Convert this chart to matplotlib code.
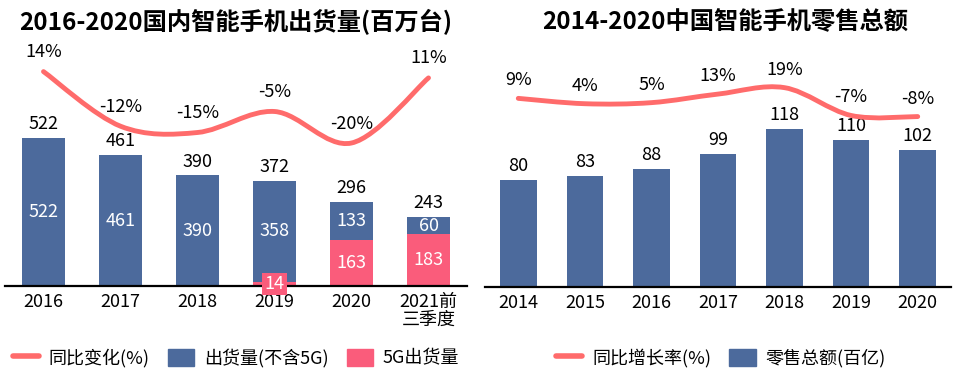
import numpy as np
import matplotlib
matplotlib.use("Agg")
import matplotlib.pyplot as plt
from matplotlib.path import Path
from matplotlib.patches import PathPatch, Patch
from matplotlib.lines import Line2D

plt.rcParams['font.family'] = ['Noto Sans CJK SC', 'DejaVu Sans']

# left chart data
years_l = ['2016', '2017', '2018', '2019', '2020', '2021前\n三季度']
total_l = [522, 461, 390, 372, 296, 243]
non5g_l = [522, 461, 390, 358, 133, 60]
g5_l = [0, 0, 0, 14, 163, 183]
yoy_l = [14, -12, -15, -5, -20, 11]

# right chart data
years_r = ['2014', '2015', '2016', '2017', '2018', '2019', '2020']
retail_r = [80, 83, 88, 99, 118, 110, 102]
yoy_r = [9, 4, 5, 13, 19, -7, -8]

BLUE = '#4C6A9C'
PINK = '#FA5C7B'
LINE = '#FF6B6B'
W, H = 955, 376
FS = 13


def smooth_path(xs, ys):
    # Catmull-Rom style smoothing drawn as cubic bezier segments
    pts = np.column_stack([xs, ys]).astype(float)
    ext = np.vstack([pts[0], pts, pts[-1]])
    verts = [pts[0]]
    codes = [Path.MOVETO]
    for i in range(len(pts) - 1):
        p0, p1, p2, p3 = ext[i], ext[i + 1], ext[i + 2], ext[i + 3]
        verts += [p1 + (p2 - p0) / 6, p2 - (p3 - p1) / 6, p2]
        codes += [Path.CURVE4] * 3
    return Path(verts, codes)


def px_axes(fig, left, right, top, bottom):
    return fig.add_axes([left / W, 1 - bottom / H, (right - left) / W, (bottom - top) / H])


def style_axis(ax):
    for s in ['top', 'left', 'right']:
        ax.spines[s].set_visible(False)
    ax.spines['bottom'].set_linewidth(1.6)
    ax.spines['bottom'].set_color('black')
    ax.set_yticks([])
    ax.tick_params(axis='x', length=0, labelsize=FS, pad=5)


fig = plt.figure(figsize=(W / 100, H / 100), dpi=100)

# ---- left chart ----
ax1 = px_axes(fig, 5, 467, 40, 286)
x = np.arange(len(years_l))
ax1.bar(x, g5_l, width=0.56, color=PINK)
ax1.bar(x, non5g_l, width=0.56, bottom=g5_l, color=BLUE)
ax1.set_xlim(-0.5, 5.5)
ax1.set_ylim(0, 868)
ax1.set_xticks(x)
ax1.set_xticklabels(years_l, linespacing=1.0)
style_axis(ax1)

for i in range(len(x)):
    ax1.annotate(str(total_l[i]), (x[i], total_l[i]), xytext=(0, 10), textcoords='offset points',
                 ha='center', va='center', fontsize=FS)
    ax1.text(x[i], g5_l[i] + non5g_l[i] / 2, str(non5g_l[i]), ha='center', va='center',
             fontsize=FS, color='white')
    if g5_l[i] > 0:
        if g5_l[i] < 40:
            ax1.text(x[i], g5_l[i] / 2, str(g5_l[i]), ha='center', va='center', fontsize=FS,
                     color='white', bbox=dict(boxstyle='square,pad=0.12', fc=PINK, ec='none'))
        else:
            ax1.text(x[i], g5_l[i] / 2, str(g5_l[i]), ha='center', va='center', fontsize=FS,
                     color='white')

ax1b = ax1.twinx()
ax1b.set_ylim(-88.1, 29.05)
ax1b.axis('off')
ax1b.add_patch(PathPatch(smooth_path(x, yoy_l), fc='none', ec=LINE, lw=3.5, capstyle='round'))
for i in range(len(x)):
    ax1b.annotate(f'{yoy_l[i]}%', (x[i], yoy_l[i]), xytext=(0, 14), textcoords='offset points',
                  ha='center', va='center', fontsize=FS)

fig.text(236 / W, 1 - 22 / H, '2016-2020国内智能手机出货量(百万台)', ha='center', va='center',
         fontsize=17.5, fontweight='bold')

h1 = [Line2D([0], [0], color=LINE, lw=4, solid_capstyle='round'),
      Patch(color=BLUE), Patch(color=PINK)]
ax1.legend(h1, ['同比变化(%)', '出货量(不含5G)', '5G出货量'], loc='center',
           bbox_to_anchor=(236 / W, 1 - 358 / H), bbox_transform=fig.transFigure, ncol=3,
           frameon=False, fontsize=FS, handlelength=1.45, handleheight=1.05,
           handletextpad=0.55, columnspacing=1.0)

# ---- right chart ----
ax2 = px_axes(fig, 485, 951, 40, 287)
xr = np.arange(len(years_r))
ax2.bar(xr, retail_r, width=0.55, color=BLUE)
ax2.set_xlim(-0.5, 6.5)
ax2.set_ylim(0, 184.3)
ax2.set_xticks(xr)
ax2.set_xticklabels(years_r)
style_axis(ax2)
for i in range(len(xr)):
    ax2.annotate(str(retail_r[i]), (xr[i], retail_r[i]), xytext=(0, 10), textcoords='offset points',
                 ha='center', va='center', fontsize=FS)

ax2b = ax2.twinx()
ax2b.set_ylim(-167.3, 63.55)
ax2b.axis('off')
ax2b.add_patch(PathPatch(smooth_path(xr, yoy_r), fc='none', ec=LINE, lw=3.5, capstyle='round'))
for i in range(len(xr)):
    ax2b.annotate(f'{yoy_r[i]}%', (xr[i], yoy_r[i]), xytext=(0, 13), textcoords='offset points',
                  ha='center', va='center', fontsize=FS)

fig.text(725 / W, 1 - 22 / H, '2014-2020中国智能手机零售总额', ha='center', va='center',
         fontsize=17.5, fontweight='bold')

h2 = [Line2D([0], [0], color=LINE, lw=4, solid_capstyle='round'), Patch(color=BLUE)]
ax2.legend(h2, ['同比增长率(%)', '零售总额(百亿)'], loc='center',
           bbox_to_anchor=(721 / W, 1 - 358 / H), bbox_transform=fig.transFigure, ncol=2,
           frameon=False, fontsize=FS, handlelength=1.45, handleheight=1.05,
           handletextpad=0.55, columnspacing=1.0)

fig.savefig('out.png', dpi=100)
